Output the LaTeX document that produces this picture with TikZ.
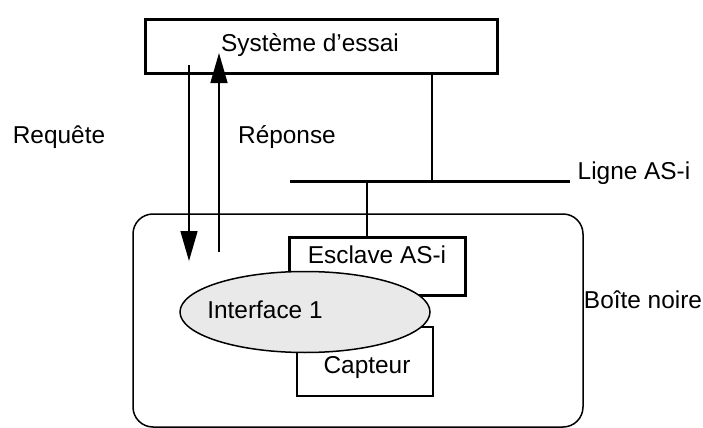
\documentclass[tikz,border=0pt]{standalone}
\usepackage{fontspec}
\setmainfont{Liberation Sans}
\usetikzlibrary{arrows.meta,shapes.geometric}
\begin{document}
\begin{tikzpicture}[x=0.5pt,y=-0.5pt,
  thickbox/.style={draw,line width=1.5pt,fill=white,inner sep=0pt},
  thinbox/.style={draw,line width=0.75pt,fill=white,inner sep=0pt},
  txt/.style={inner sep=0pt,font=\fontsize{12.2pt}{14pt}\selectfont},
  wire/.style={line width=0.75pt},
  sig/.style={line width=0.75pt,-{Triangle[length=15pt,width=8.5pt]}}]
\useasboundingbox (0,0) rectangle (703,428);
% black box
\node[draw,line width=0.75pt,rounded corners=10pt,minimum width=225pt,minimum height=106.5pt,inner sep=0pt] (bb) at (358,320.5) {};
% test system
\node[thickbox,minimum width=176pt,minimum height=27pt] (sys) at (321,46) {};
\node[txt] (sysT) at (310,45) {Système d’essai};
% request / response
\coordinate (reqA) at (189,65);
\coordinate (reqB) at (189,261);
\coordinate (repA) at (219,252);
\coordinate (repB) at (219,53);
\draw[sig] (reqA) -- (reqB);
\draw[sig] (repA) -- (repB);
% AS-i line
\coordinate (lineL) at (290,181);
\coordinate (lineR) at (570,181);
\draw[line width=1.5pt] (lineL) -- (lineR);
\coordinate (tapS) at (432,73);
\coordinate (tapL) at (432,181);
\draw[wire] (tapS) -- (tapL);
% slave
\node[thickbox,minimum width=88pt,minimum height=29pt] (sl) at (377,266) {};
\coordinate (tapE) at (367,181);
\draw[wire] (tapE) -- (sl.north -| tapE);
% sensor
\node[thinbox,minimum width=68pt,minimum height=34.5pt] (cap) at (365,361.5) {};
% interface
\node[draw,ellipse,line width=0.75pt,fill=gray!17,minimum width=125pt,minimum height=40.5pt,inner sep=0pt] (if) at (305,312) {};
% texts
\node[txt] (slT) at (377,255) {Esclave AS-i};
\node[txt] (capT) at (367,368) {Capteur};
\node[txt] (ifT) at (265,310) {Interface 1};
\node[txt] (req) at (59,137) {Requête};
\node[txt] (rep) at (287,137) {Réponse};
\node[txt] (lig) at (634,173) {Ligne AS-i};
\node[txt] (bn) at (643,300) {Boîte noire};
\end{tikzpicture}
\end{document}
